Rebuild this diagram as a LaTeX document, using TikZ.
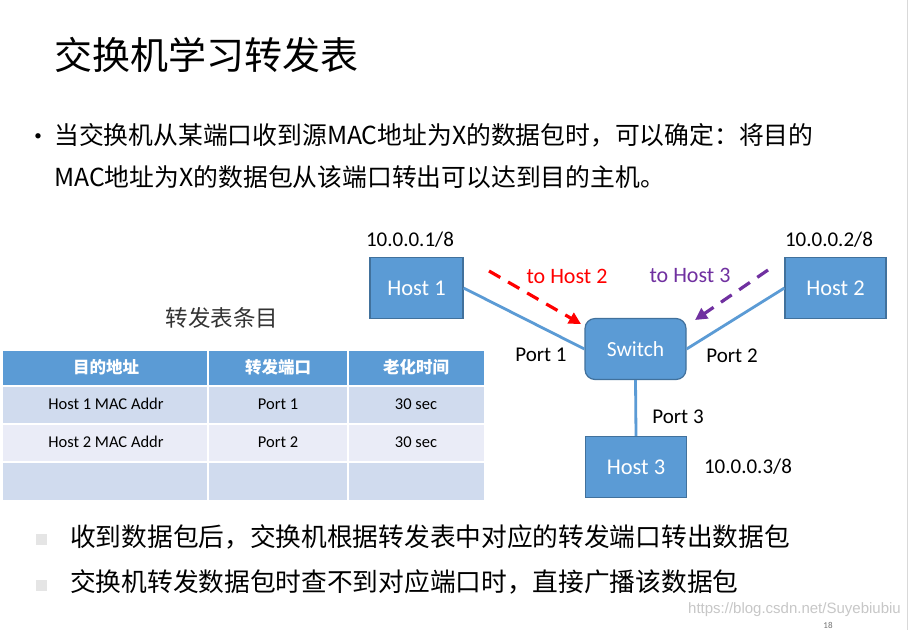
\documentclass[tikz,border=0pt]{standalone}
\usepackage{fontspec}
\usepackage{xcolor}
\usepackage{tikz}
\usetikzlibrary{arrows.meta}

\setmainfont{Carlito}
\newfontfamily\cjk{Noto Sans CJK SC}
\newfontfamily\webfont{Liberation Sans}

\definecolor{boxblue}{HTML}{5B9BD5}
\definecolor{boxedge}{HTML}{41719C}
\definecolor{rowA}{HTML}{D0DBEE}
\definecolor{rowB}{HTML}{EAECF7}
\definecolor{tohostthree}{HTML}{7030A0}

\begin{document}
\begin{tikzpicture}[x=1pt, y=-1pt,
    host/.style={draw=boxedge, line width=1.2pt, fill=boxblue, text=white,
        minimum width=101pt, minimum height=61pt, font=\fontsize{22.5}{26}\selectfont},
    link/.style={boxblue, line width=2.8pt},
    label/.style={inner sep=0pt, font=\fontsize{21}{25}\selectfont},
    flow/.style={line width=3.2pt, dash pattern=on 13pt off 9pt,
        -{Triangle[length=12pt,width=12pt]}},
    cell/.style={inner sep=0pt, font=\fontsize{16.5}{20}\selectfont},
    headcell/.style={inner sep=0pt, text=white, font=\cjk\bfseries\fontsize{16.5}{20}\selectfont},
    sqbullet/.style={fill=black!10, minimum size=11pt, inner sep=0pt}]

    \fill[white] (0,0) rectangle (909,630);
    \useasboundingbox (0,0) rectangle (909,630);
    \draw[black!15, line width=1pt] (907.5,0) -- (907.5,630);

    % Title
    \node[anchor=west, inner sep=0pt, font=\cjk\fontsize{38}{44}\selectfont] (title) at (54,55) {交换机学习转发表};

    % Bullet text
    \node[inner sep=0pt, font=\fontsize{15}{18}\selectfont] (dot) at (38,137) {•};
    \node[anchor=west, inner sep=0pt, font=\cjk\fontsize{24.8}{30}\selectfont] (line1) at (54,135) {当交换机从某端口收到源MAC地址为X的数据包时，可以确定：将目的};
    \node[anchor=west, inner sep=0pt, font=\cjk\fontsize{24.8}{30}\selectfont] (line2) at (54,177) {MAC地址为X的数据包从该端口转出可以达到目的主机。};

    % Hosts and switch
    \node[host, minimum width=93pt] (h1) at (416.5,288) {Host 1};
    \node[host] (h2) at (835.5,288) {Host 2};
    \node[host, rounded corners=10pt, font=\fontsize{21.5}{25}\selectfont] (sw) at (635.5,349) {Switch};
    \node[host] (h3) at (636,467) {Host 3};

    \draw[link] (h1.east) -- (sw.west);
    \draw[link] (h2.west) -- (sw.east);
    \draw[link] (sw.south) -- (h3.north);

    % Addresses and ports
    \node[label] (ip1) at (410,240) {10.0.0.1/8};
    \node[label] (ip2) at (829,240) {10.0.0.2/8};
    \node[label] (ip3) at (748,467) {10.0.0.3/8};
    \node[label] (p1) at (541,355) {Port 1};
    \node[label] (p2) at (732,356) {Port 2};
    \node[label] (p3) at (678,417) {Port 3};

    % Flows
    \coordinate (r0) at (489,271);
    \coordinate (r1) at (581,324);
    \coordinate (v0) at (768,270);
    \coordinate (v1) at (695,320);
    \draw[flow, red] (r0) -- (r1);
    \draw[flow, tohostthree] (v0) -- (v1);
    \node[label, red, font=\fontsize{22}{26}\selectfont] (to2) at (567,276) {to Host 2};
    \node[label, tohostthree, font=\fontsize{22}{26}\selectfont] (to3) at (690,275) {to Host 3};

    % Table
    \node[inner sep=0pt, text=black!80, font=\cjk\fontsize{22.5}{26}\selectfont] (caption) at (222,318) {转发表条目};
    \fill[boxblue] (3,351) rectangle (484,386);
    \fill[rowA] (3,386) rectangle (484,424);
    \fill[rowB] (3,424) rectangle (484,462);
    \fill[rowA] (3,462) rectangle (484,500);
    \draw[white, line width=2pt] (3,386) -- (484,386) (3,424) -- (484,424) (3,462) -- (484,462);
    \draw[white, line width=2pt] (208,351) -- (208,500) (348,351) -- (348,500);
    \node[headcell] (th1) at (106,367) {目的地址};
    \node[headcell] (th2) at (278,367) {转发端口};
    \node[headcell] (th3) at (416,367) {老化时间};
    \node[cell] (mac1) at (106,404) {Host 1 MAC Addr};
    \node[cell] (port1) at (278,404) {Port 1};
    \node[cell] (age1) at (416,404) {30 sec};
    \node[cell] (mac2) at (106,442) {Host 2 MAC Addr};
    \node[cell] (port2) at (278,442) {Port 2};
    \node[cell] (age2) at (416,442) {30 sec};

    % Bottom points
    \node[sqbullet] (b1) at (41.5,539.5) {};
    \node[sqbullet] (b2) at (41.5,585.5) {};
    \node[anchor=west, inner sep=0pt, font=\cjk\fontsize{25.7}{30}\selectfont] (rule1) at (70,537) {收到数据包后，交换机根据转发表中对应的转发端口转出数据包};
    \node[anchor=west, inner sep=0pt, font=\cjk\fontsize{25.7}{30}\selectfont] (rule2) at (70,582) {交换机转发数据包时查不到对应端口时，直接广播该数据包};

    % Watermark and page number
    \node[anchor=east, inner sep=0pt, text=black!22, font=\webfont\fontsize{15}{18}\selectfont] (mark) at (901,610) {https://blog.csdn.net/Suyebiubiu};
    \node[inner sep=0pt, text=black!55, font=\fontsize{9}{11}\selectfont] (page) at (828,625) {18};
\end{tikzpicture}
\end{document}
